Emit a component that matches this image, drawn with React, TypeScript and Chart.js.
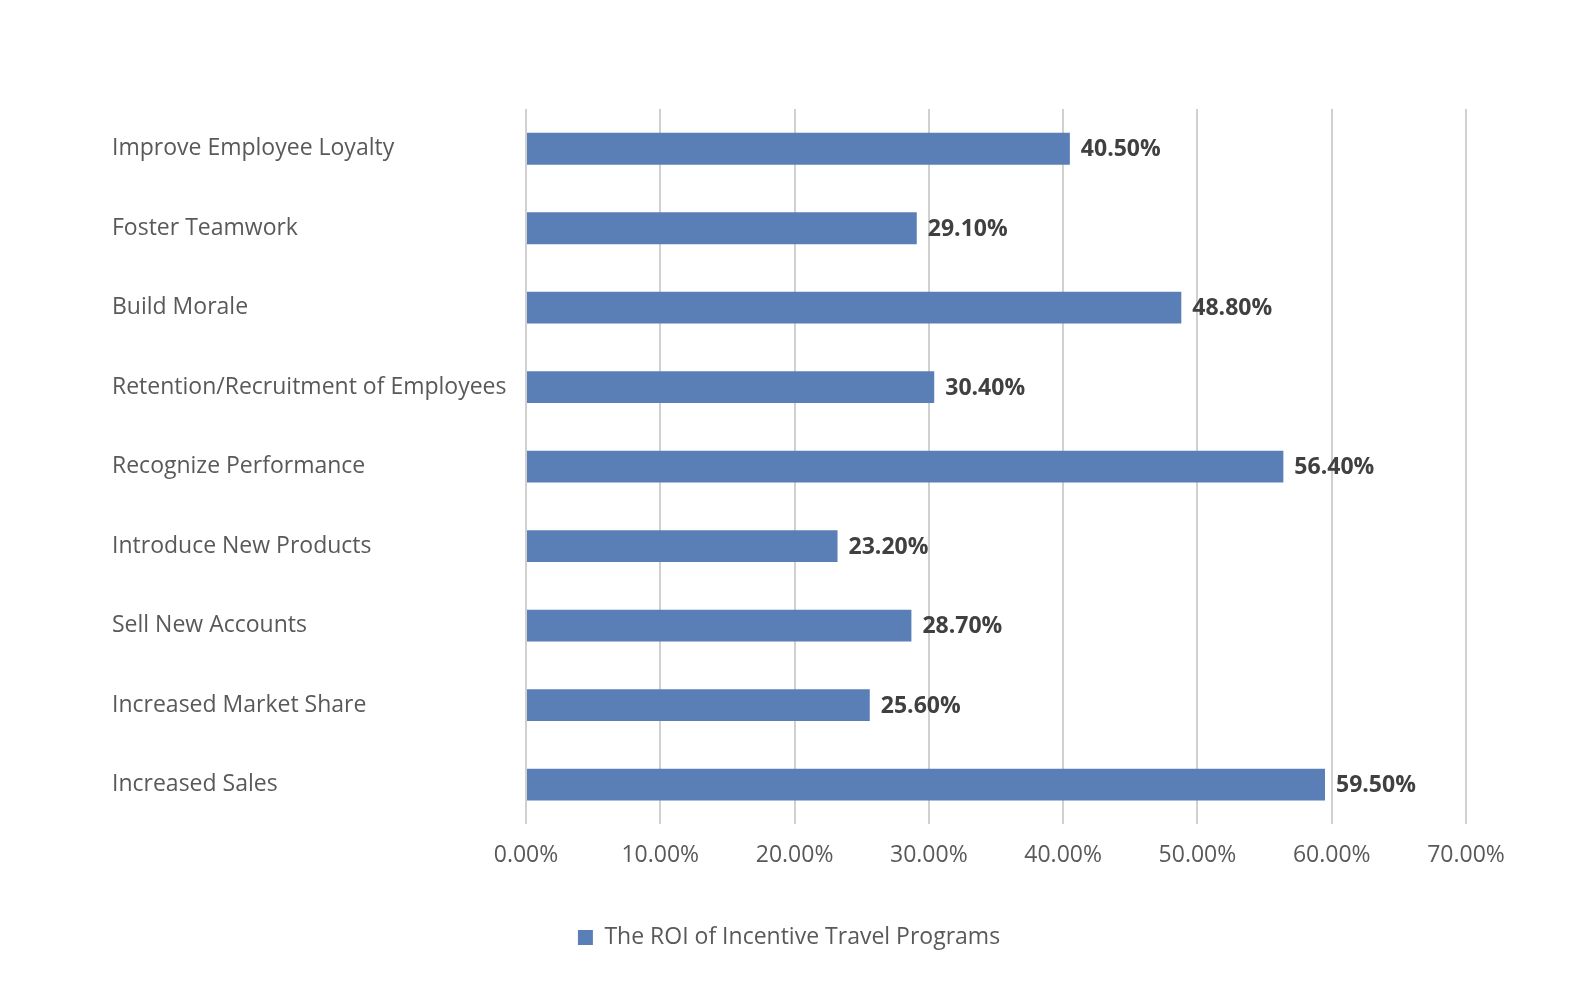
import { useEffect, useRef } from "react"
import { Chart, registerables } from "chart.js"

Chart.register(...registerables)

const categories = [
    "Improve Employee Loyalty",
    "Foster Teamwork",
    "Build Morale",
    "Retention/Recruitment of Employees",
    "Recognize Performance",
    "Introduce New Products",
    "Sell New Accounts",
    "Increased Market Share",
    "Increased Sales",
]

const roiValues = [40.5, 29.1, 48.8, 30.4, 56.4, 23.2, 28.7, 25.6, 59.5]

const seriesName = "The ROI of Incentive Travel Programs"

const FONT = "'Open Sans', sans-serif"
const BAR_COLOR = "#5a7fb6"

// Etiquetas de datos al final de cada barra
const valueLabels = {
    id: "valueLabels",
    afterDatasetsDraw(chart: Chart) {
        const ctx = chart.ctx
        const meta = chart.getDatasetMeta(0)
        ctx.save()
        ctx.font = `bold 23px ${FONT}`
        ctx.fillStyle = "#404040"
        ctx.textAlign = "left"
        ctx.textBaseline = "middle"
        meta.data.forEach((bar: any, i: number) => {
            const v = chart.data.datasets[0].data[i] as number
            ctx.fillText(v.toFixed(2) + "%", bar.x + 11, bar.y + 1)
        })
        ctx.restore()
    },
}

export default function App() {
    const chartRef = useRef<HTMLCanvasElement>(null)
    const chartInstance = useRef<Chart | null>(null)

    useEffect(() => {
        document.body.style.margin = "0"
        if (!chartRef.current) return
        if (chartInstance.current) chartInstance.current.destroy()
        const ctx = chartRef.current.getContext("2d")
        if (!ctx) return

        chartInstance.current = new Chart(ctx, {
            type: "bar",
            data: {
                labels: categories,
                datasets: [
                    {
                        label: seriesName,
                        data: roiValues,
                        backgroundColor: BAR_COLOR,
                        borderWidth: 0,
                        categoryPercentage: 1,
                        barPercentage: 0.4,
                    },
                ],
            },
            options: {
                indexAxis: "y",
                responsive: false,
                animation: false,
                layout: { padding: { left: 112, right: 126, top: 109, bottom: 47 } },
                plugins: {
                    legend: {
                        position: "bottom",
                        labels: {
                            font: { family: FONT, size: 23 },
                            color: "#595959",
                            boxWidth: 15,
                            boxHeight: 15,
                            padding: 40,
                        },
                    },
                    tooltip: { enabled: false },
                },
                scales: {
                    x: {
                        min: 0,
                        max: 70,
                        ticks: {
                            stepSize: 10,
                            padding: 17,
                            color: "#595959",
                            font: { family: FONT, size: 23 },
                            callback: (v: any) => Number(v).toFixed(2) + "%",
                        },
                        grid: { color: "#d0d0d0", lineWidth: 2, drawTicks: false },
                        border: { display: false },
                    },
                    y: {
                        afterFit: (scale: any) => {
                            scale.width = 414
                        },
                        ticks: {
                            crossAlign: "far",
                            color: "#595959",
                            font: { family: FONT, size: 23 },
                        },
                        grid: { display: false },
                        border: { display: false },
                    },
                },
            },
            plugins: [valueLabels],
        })

        return () => {
            if (chartInstance.current) chartInstance.current.destroy()
        }
    }, [])

    return <canvas ref={chartRef} width={1592} height={1006} style={{ display: "block" }} />
}
